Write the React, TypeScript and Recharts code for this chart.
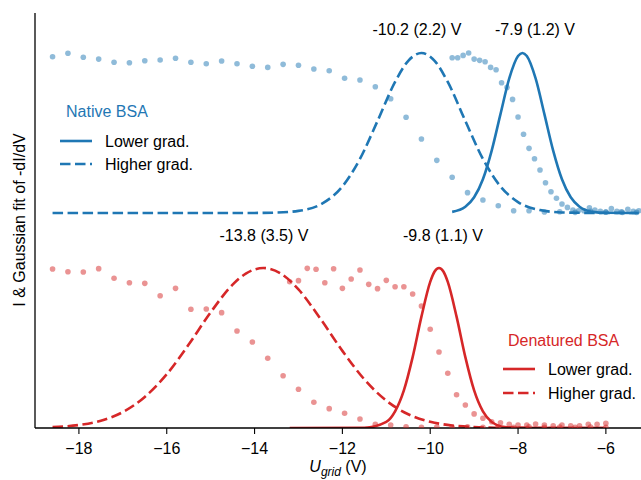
import { ComposedChart, Line, Scatter, XAxis, YAxis, Customized } from "recharts";

const NATIVE = "#1f77b4";
const DENAT = "#d62728";
const FONT = '"Liberation Sans", Arial, Helvetica, sans-serif';
const DASH = "10.5 4.5";
const LW = 2.6;

// grid voltages of the "higher gradient" sweeps (V)
const highGradU = [
  -18.6, -18.25, -17.9, -17.55, -17.2, -16.85, -16.5, -16.15, -15.8, -15.45,
  -15.1, -14.75, -14.4, -14.05, -13.7, -13.35, -13.0, -12.65, -12.3, -11.95,
  -11.6, -11.25, -10.9, -10.55, -10.2, -9.85, -9.5, -9.15, -8.8, -8.45,
  -8.1, -7.75, -7.4, -7.05, -6.7, -6.35, -6.0, -5.65, -5.3,
];

// native BSA, measured current (offset trace)
const nativeHighI = [
  2.321, 2.342, 2.317, 2.306, 2.286, 2.283, 2.296, 2.3, 2.311, 2.286,
  2.277, 2.294, 2.277, 2.261, 2.254, 2.273, 2.267, 2.244, 2.233, 2.186,
  2.175, 2.133, 2.058, 1.942, 1.806, 1.673, 1.567, 1.471, 1.425, 1.389,
  1.358, 1.358, 1.35, 1.352, 1.348, 1.355, 1.35, 1.352, 1.348,
];

const nativeLowU = [
  -9.5, -9.375, -9.25, -9.125, -9.0, -8.875, -8.75, -8.625, -8.5, -8.375,
  -8.25, -8.125, -8.0, -7.875, -7.75, -7.625, -7.5, -7.375, -7.25, -7.125,
  -7.0, -6.875, -6.75, -6.625, -6.5, -6.375, -6.25, -6.125, -6.0, -5.875,
  -5.75, -5.625, -5.5, -5.375, -5.25,
];
const nativeLowI = [
  2.314, 2.314, 2.329, 2.344, 2.306, 2.298, 2.289, 2.254, 2.239, 2.158,
  2.129, 2.054, 1.944, 1.836, 1.748, 1.683, 1.613, 1.533, 1.477, 1.436,
  1.4, 1.379, 1.363, 1.358, 1.358, 1.377, 1.363, 1.354, 1.35, 1.371,
  1.354, 1.348, 1.367, 1.354, 1.358,
];

// denatured BSA, measured current
const denatHighI = [
  0.994, 0.977, 0.975, 0.996, 0.936, 0.908, 0.904, 0.827, 0.873, 0.742,
  0.744, 0.721, 0.606, 0.538, 0.436, 0.327, 0.242, 0.161, 0.121, 0.092,
  0.056, 0.023, 0.019, 0.008, 0.004, 0.006, 0.005, 0.007, 0.004, 0.006,
  0.005, 0.007, 0.004, 0.006, 0.005, 0.006, 0.004,
];

const denatLowU = [
  -13.2, -13.0, -12.8, -12.6, -12.4, -12.2, -12.0, -11.8, -11.6, -11.4,
  -11.2, -11.0, -10.8, -10.6, -10.4, -10.2, -10.0, -9.8, -9.6, -9.4,
  -9.2, -9.0, -8.8, -8.6, -8.4, -8.2, -8.0, -7.8, -7.6, -7.4,
  -7.2, -7.0, -6.8, -6.6, -6.4, -6.2, -6.0,
];
const denatLowI = [
  0.914, 0.921, 0.998, 0.992, 0.908, 0.995, 0.873, 0.931, 0.988, 0.898,
  0.871, 0.923, 0.883, 0.883, 0.838, 0.763, 0.617, 0.475, 0.342, 0.208,
  0.144, 0.088, 0.061, 0.039, 0.033, 0.023, 0.019, 0.019, 0.025, 0.019,
  0.014, 0.019, 0.013, 0.013, 0.023, 0.023, 0.029,
];

// Gaussian fits of -dI/dV (peak = 1)
const nativeHighFitU = [-18.6, -16, -14, -13.5, -13, -12.5, -12, -11.6, -11.2, -10.8, -10.5, -10.2, -9.9, -9.6, -9.2, -8.8, -8.4, -8, -7.5, -7, -6, -5.3];
const nativeHighFit = [0, 0, 0.0003, 0.0024, 0.013, 0.053, 0.166, 0.338, 0.575, 0.819, 0.951, 1, 0.951, 0.819, 0.575, 0.338, 0.166, 0.068, 0.018, 0.0034, 0, 0];

const nativeLowFitU = [-9.5, -9.2, -9.0, -8.8, -8.6, -8.4, -8.2, -8.0, -7.9, -7.8, -7.6, -7.4, -7.2, -7.0, -6.8, -6.6, -6.3, -6.0, -5.25];
const nativeLowFit = [0.007, 0.039, 0.098, 0.211, 0.39, 0.618, 0.841, 0.981, 1, 0.981, 0.841, 0.618, 0.39, 0.211, 0.098, 0.039, 0.007, 0.001, 0];

const denatHighFitU = [-18.6, -18, -17.5, -17, -16.5, -16, -15.5, -15, -14.5, -14.2, -13.8, -13.4, -13, -12.5, -12, -11.5, -11, -10.5, -10, -9.5, -9, -8.5, -8, -7, -6];
const denatHighFit = [0.0056, 0.0189, 0.046, 0.0997, 0.194, 0.336, 0.522, 0.723, 0.896, 0.965, 1, 0.965, 0.866, 0.683, 0.482, 0.304, 0.171, 0.086, 0.039, 0.0156, 0.0056, 0.0018, 0.0005, 0, 0];

const denatLowFitU = [-13.2, -11.5, -11, -10.8, -10.6, -10.4, -10.2, -10.0, -9.9, -9.8, -9.7, -9.6, -9.4, -9.2, -9.0, -8.8, -8.6, -8.3, -8, -6];
const denatLowFit = [0, 0.0014, 0.038, 0.104, 0.235, 0.443, 0.696, 0.913, 0.978, 1, 0.978, 0.913, 0.696, 0.443, 0.235, 0.104, 0.038, 0.006, 0.0007, 0];

const NATIVE_OFFSET = 1.344;
const xTicks = [-18, -16, -14, -12, -10, -8, -6];

const pts = (u: number[], v: number[], off = 0) =>
  v.map((y, i) => ({ u: u[i], v: y + off }));

const dot = (color: string) => (p: any) =>
  <circle cx={p.cx} cy={p.cy} r={2.8} fill={color} fillOpacity={0.5} />;

function Overlay() {
  const t = { fontFamily: FONT, fontSize: 16 };
  return (
    <g>
      <text x={417} y={35} textAnchor="middle" {...t}>-10.2 (2.2) V</text>
      <text x={535} y={35} textAnchor="middle" {...t}>-7.9 (1.2) V</text>
      <text x={264} y={241} textAnchor="middle" {...t}>-13.8 (3.5) V</text>
      <text x={443} y={241} textAnchor="middle" {...t}>-9.8 (1.1) V</text>

      <text x={66} y={117} fill={NATIVE} {...t}>Native BSA</text>
      <line x1={60} x2={92} y1={141} y2={141} stroke={NATIVE} strokeWidth={LW} />
      <text x={105} y={147} {...t}>Lower grad.</text>
      <line x1={60} x2={92} y1={164} y2={164} stroke={NATIVE} strokeWidth={LW} strokeDasharray={DASH} />
      <text x={105} y={170} {...t}>Higher grad.</text>

      <text x={508} y={346} fill={DENAT} {...t}>Denatured BSA</text>
      <line x1={503} x2={535} y1={369} y2={369} stroke={DENAT} strokeWidth={LW} />
      <text x={548} y={375} {...t}>Lower grad.</text>
      <line x1={503} x2={535} y1={393} y2={393} stroke={DENAT} strokeWidth={LW} strokeDasharray={DASH} />
      <text x={548} y={399} {...t}>Higher grad.</text>

      <text x={338} y={472} textAnchor="middle" {...t}>
        <tspan fontStyle="italic">U</tspan>
        <tspan fontStyle="italic" fontSize={12} dy={4}>grid</tspan>
        <tspan dy={-4}> (V)</tspan>
      </text>
      <text transform="translate(25,220) rotate(-90)" textAnchor="middle" {...t}>
        I &amp; Gaussian fit of -dI/dV
      </text>
    </g>
  );
}

export default function App() {
  const axisLine = { stroke: "#000", strokeWidth: 1.3 };
  return (
    <div style={{ position: "fixed", left: 0, top: 0, width: 641, height: 480, overflow: "hidden", background: "#fff" }}>
      <ComposedChart width={660} height={480} margin={{ top: 13, right: 19, bottom: 0, left: 0 }}>
        <XAxis
          dataKey="u"
          type="number"
          domain={[-19, -5.2]}
          allowDataOverflow
          ticks={xTicks}
          tickFormatter={(v) => String(v).replace("-", "\u2212")}
          height={52}
          tickSize={6}
          tickMargin={9}
          axisLine={axisLine}
          tickLine={{ stroke: "#000", strokeWidth: 1.1 }}
          tick={{ fill: "#000", fontSize: 16, fontFamily: FONT }}
        />
        <XAxis
          xAxisId="top"
          orientation="top"
          dataKey="u"
          type="number"
          domain={[-19, -5.2]}
          allowDataOverflow
          height={0}
          tick={false}
          tickLine={false}
          axisLine={axisLine}
        />
        <YAxis
          dataKey="v"
          type="number"
          domain={[0, 2.594]}
          allowDataOverflow
          width={35}
          tick={false}
          tickLine={false}
          axisLine={axisLine}
        />

        <Line data={pts(nativeHighFitU, nativeHighFit, NATIVE_OFFSET)} dataKey="v" type="monotone" stroke={NATIVE} strokeWidth={LW} strokeDasharray={DASH} dot={false} isAnimationActive={false} />
        <Line data={pts(nativeLowFitU, nativeLowFit, NATIVE_OFFSET)} dataKey="v" type="monotone" stroke={NATIVE} strokeWidth={LW} dot={false} isAnimationActive={false} />
        <Line data={pts(denatHighFitU, denatHighFit)} dataKey="v" type="monotone" stroke={DENAT} strokeWidth={LW} strokeDasharray={DASH} dot={false} isAnimationActive={false} />
        <Line data={pts(denatLowFitU, denatLowFit)} dataKey="v" type="monotone" stroke={DENAT} strokeWidth={LW} dot={false} isAnimationActive={false} />

        <Scatter data={pts(highGradU, nativeHighI)} dataKey="v" shape={dot(NATIVE)} isAnimationActive={false} />
        <Scatter data={pts(nativeLowU, nativeLowI)} dataKey="v" shape={dot(NATIVE)} isAnimationActive={false} />
        <Scatter data={pts(highGradU, denatHighI)} dataKey="v" shape={dot(DENAT)} isAnimationActive={false} />
        <Scatter data={pts(denatLowU, denatLowI)} dataKey="v" shape={dot(DENAT)} isAnimationActive={false} />

        <Customized component={<Overlay />} />
      </ComposedChart>
    </div>
  );
}
